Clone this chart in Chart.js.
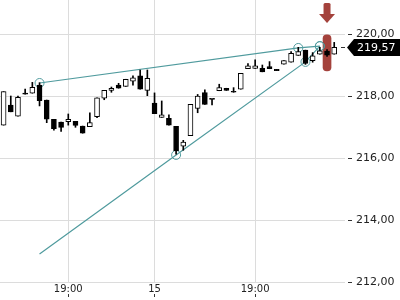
<!DOCTYPE html>
<html><head><meta charset="utf-8">
<script src="https://cdn.jsdelivr.net/npm/chart.js@4/dist/chart.umd.min.js"></script>
<style>html,body{margin:0;padding:0;background:#fff}</style>
</head><body>
<canvas id="c" width="400" height="300"></canvas>
<script>
// ---- data ----
const candleOpen  = [217.06,217.71,217.35,218.06,218.09,218.35,217.87,217.25,217.16,217.17,217.18,217.03,217.01,217.33,217.93,218.18,218.35,218.31,218.48,218.65,218.18,217.77,217.31,217.28,217.02,216.38,216.72,217.60,218.11,217.89,218.17,218.25,218.15,218.22,218.88,218.89,218.89,218.95,218.86,219.03,219.09,219.31,219.48,219.14,219.35,219.45,219.35];
const candleHigh  = [218.14,218.00,218.00,218.22,218.44,218.43,217.87,217.25,217.16,217.42,217.18,217.03,217.46,217.94,218.18,218.29,218.41,218.54,218.65,218.84,218.84,218.10,217.84,217.39,217.02,216.57,217.73,218.05,218.20,217.89,218.38,218.25,218.27,218.73,219.05,219.17,219.00,219.11,218.86,219.14,219.43,219.57,219.48,219.40,219.57,219.50,219.73];
const candleLow   = [217.06,217.49,217.35,218.06,218.09,217.68,217.14,216.90,216.86,217.06,216.99,216.80,217.01,217.30,217.88,218.12,218.25,218.31,218.35,218.22,218.01,217.43,217.31,217.06,216.12,216.25,216.72,217.46,217.73,217.71,218.17,218.18,218.12,218.22,218.88,218.89,218.78,218.88,218.82,219.03,219.09,219.31,219.02,219.09,219.35,219.28,219.35];
const candleClose = [218.14,217.49,217.96,218.06,218.28,217.85,217.25,216.95,216.99,217.25,217.05,216.80,217.14,217.94,218.18,218.25,218.25,218.54,218.59,218.22,218.57,217.43,217.39,217.06,216.23,216.51,217.73,218.00,217.73,217.89,218.27,218.18,218.12,218.73,218.97,218.97,218.78,218.88,218.82,219.14,219.38,219.43,219.05,219.30,219.46,219.32,219.57];
const emptySlots = 1;                       // one free slot after the last candle
const tickIndex = [9, 21, 35];
const tickText  = ['19:00', '15', '19:00'];
const yTickValues = [212, 214, 216, 218, 220];
const upperIdx = [5, 41, 44];
const upperVal = [218.42, 219.55, 219.61];
const upperMark = [true, true, true];
const lowerIdx = [5, 24, 42, 44];
const lowerVal = [212.90, 216.10, 219.10, 219.61];
const lowerMark = [false, true, true, true];
const highlightIndex = 45;
const highlightRange = [218.81, 219.97];
const yMin = 212, yMax = 221.097;

// ---- build ----
const nCat = candleOpen.length + emptySlots;
const categories = Array.from({length: nCat}, (_, i) => String(i));
const fmt = v => v.toFixed(2).replace('.', ',');
const TEAL = 'rgba(80,155,158,1)';
const RED = '#a4423c';

function sparse(idx, vals) {
  const a = new Array(nCat).fill(null);
  idx.forEach((k, j) => a[k] = vals[j]);
  return a;
}
function sparseRadius(idx, marks) {
  const a = new Array(nCat).fill(0);
  idx.forEach((k, j) => a[k] = marks[j] ? 4.5 : 0);
  return a;
}
const bodies = candleOpen.map((o, i) => [o, candleClose[i]]);
const bodyColors = candleOpen.map((o, i) => candleClose[i] > o ? '#ffffff' : '#000000');
const wicks = candleLow.map((l, i) => [l, candleHigh[i]]);
const highlight = new Array(nCat).fill(null);
highlight[highlightIndex] = highlightRange;
const isTick = i => tickIndex.includes(i);

const overlay = {
  id: 'overlay',
  afterDraw(chart) {
    const c = chart.ctx, xs = chart.scales.x, ys = chart.scales.y, area = chart.chartArea;
    // red arrow above highlighted candle
    const ax = xs.getPixelForValue(highlightIndex);
    c.save();
    c.fillStyle = RED;
    c.beginPath();
    c.roundRect(ax - 3.5, area.top + 3, 7, 13, 1.5);
    c.fill();
    c.beginPath();
    c.moveTo(ax - 8, area.top + 14);
    c.lineTo(ax + 8, area.top + 14);
    c.lineTo(ax, area.top + 23);
    c.closePath();
    c.fill();
    // last price tag
    const last = candleClose[candleClose.length - 1];
    const py = Math.round(ys.getPixelForValue(last)) + 0.5;
    const x0 = area.right;
    c.strokeStyle = '#333';
    c.lineWidth = 1;
    c.beginPath();
    c.moveTo(x0 - 4, py); c.lineTo(x0, py); c.stroke();
    c.fillStyle = '#000';
    c.beginPath();
    c.moveTo(x0 + 2, py);
    c.lineTo(x0 + 9, py - 8.5);
    c.lineTo(400, py - 8.5);
    c.lineTo(400, py + 8.5);
    c.lineTo(x0 + 9, py + 8.5);
    c.closePath();
    c.fill();
    c.fillStyle = '#fff';
    c.font = '11px "DejaVu Sans"';
    c.textBaseline = 'middle';
    c.textAlign = 'left';
    c.fillText(fmt(last), x0 + 12, py + 0.5);
    c.restore();
  }
};

new Chart(document.getElementById('c'), {
  type: 'bar',
  data: {
    labels: categories,
    datasets: [
      { label: 'body', data: bodies, backgroundColor: bodyColors, borderColor: '#000', borderWidth: 1,
        borderSkipped: false, barThickness: 5, grouped: false, minBarLength: 1 },
      { label: 'wick', data: wicks, backgroundColor: '#000', borderWidth: 0, barThickness: 1, grouped: false },
      { type: 'line', label: 'upper', data: sparse(upperIdx, upperVal), spanGaps: true, borderColor: TEAL,
        borderWidth: 1.2, pointRadius: sparseRadius(upperIdx, upperMark), pointBorderColor: TEAL,
        pointBackgroundColor: 'rgba(0,0,0,0)', pointBorderWidth: 1, tension: 0 },
      { type: 'line', label: 'lower', data: sparse(lowerIdx, lowerVal), spanGaps: true, borderColor: TEAL,
        borderWidth: 1.2, pointRadius: sparseRadius(lowerIdx, lowerMark), pointBorderColor: TEAL,
        pointBackgroundColor: 'rgba(0,0,0,0)', pointBorderWidth: 1, tension: 0 },
      { label: 'highlight', data: highlight, backgroundColor: RED, borderWidth: 0, barThickness: 8,
        borderRadius: 4, borderSkipped: false, grouped: false }
    ]
  },
  options: {
    responsive: false,
    animation: false,
    events: [],
    layout: { padding: 0 },
    plugins: { legend: { display: false }, tooltip: { enabled: false } },
    scales: {
      x: {
        offset: true,
        border: { display: false },
        grid: {
          offset: false,
          color: c => isTick(c.index) ? '#dcdcdc' : 'rgba(0,0,0,0)',
          tickColor: c => isTick(c.index) ? '#333' : 'rgba(0,0,0,0)',
          tickLength: 15,
          tickBorderDash: [0, 12, 3, 100]
        },
        ticks: {
          autoSkip: false, maxRotation: 0, minRotation: 0, padding: -14,
          color: '#222', font: { family: 'DejaVu Sans', size: 10 },
          callback: (v, i) => { const k = tickIndex.indexOf(i); return k >= 0 ? tickText[k] : ''; }
        },
        afterFit: s => { s.height = 18; s.paddingLeft = 0; s.paddingRight = 0; }
      },
      y: {
        position: 'right',
        min: yMin, max: yMax,
        border: { display: false },
        afterBuildTicks: s => { s.ticks = yTickValues.map(v => ({ value: v })); },
        grid: { color: '#dcdcdc', tickLength: 8, tickColor: '#333', tickBorderDash: [0, 3, 4, 100] },
        ticks: { padding: 3, color: '#222', font: { family: 'DejaVu Sans', size: 11 }, callback: v => fmt(v) },
        afterFit: s => { s.width = 55; s.paddingTop = 0; s.paddingBottom = 0; }
      }
    }
  },
  plugins: [overlay]
});
</script>
</body></html>
